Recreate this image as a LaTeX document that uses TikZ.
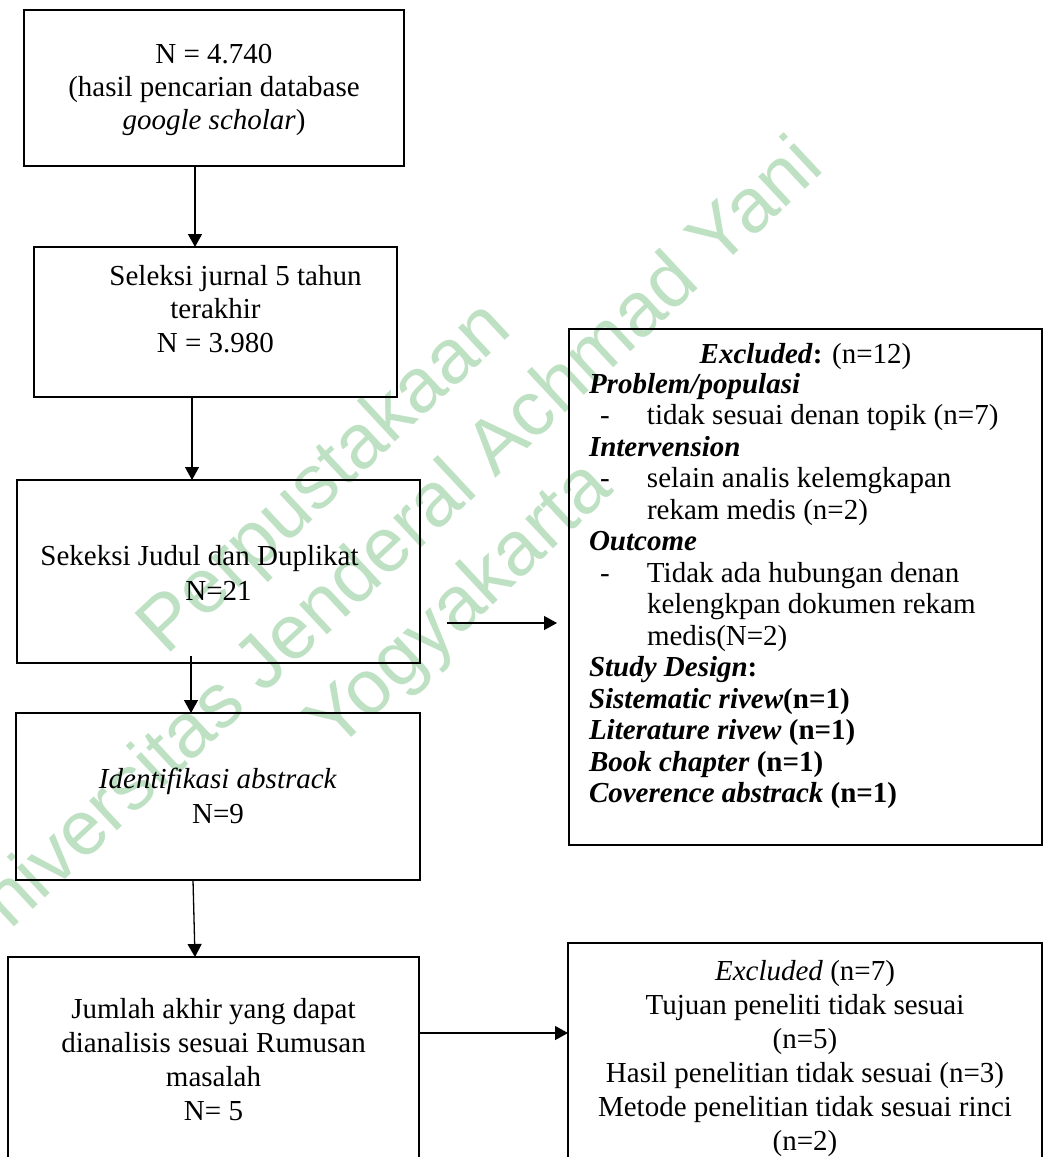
\documentclass[tikz,border=0pt]{standalone}
\usepackage{fontspec}
\setmainfont{Liberation Serif}
\newfontfamily\wmfont{Liberation Sans}
\usetikzlibrary{arrows.meta,calc}
\definecolor{wmgreen}{RGB}{190,225,195}
\newcommand\dashitem[1]{\makebox[58pt][l]{\hspace*{11pt}-}#1}
\begin{document}
\begin{tikzpicture}[x=1pt,y=-1pt,
  box/.style={draw=black,line width=2.2pt,rectangle,inner sep=0pt,outer sep=0pt},
  txt/.style={inner sep=0pt,outer sep=0pt,align=center,anchor=base},
  arr/.style={line width=1.3pt,-{Triangle[length=13pt,width=14pt]}},
  wm/.style={wmgreen,inner sep=0pt,anchor=base,rotate=43,font=\wmfont\fontsize{77}{77}\selectfont}]
\useasboundingbox (0,0) rectangle (1043,1157);
\clip (0,0) rectangle (1043,1157);
\fill[white] (0,0) rectangle (1043,1157);
% watermark
\node[wm] (w1) at (340,494) {Perpustakaan};
\node[wm] (w2) at (398,569) {Universitas Jenderal Achmad Yani};
\node[wm] (w3) at (475,622) {Yogyakarta};
% boxes
\node[box,line width=2.8pt,minimum width=380,minimum height=156] (b1) at (214,88) {};
\node[box,minimum width=363,minimum height=150] (b2) at (215.5,322) {};
\node[box,minimum width=403,minimum height=183] (b3) at (218.5,571.5) {};
\node[box,minimum width=404,minimum height=167] (b4) at (218,796.5) {};
\node[box,minimum width=411,minimum height=208] (b5) at (213.5,1061) {};
\node[box,minimum width=473,minimum height=516] (b6) at (805.5,587) {};
\node[box,minimum width=474,minimum height=222] (b7) at (805,1054) {};
% texts (anchor base = baseline of the last line)
\node[txt,font=\fontsize{29}{33}\selectfont] (t1) at (214,129)
  {N = 4.740\\(hasil pencarian database\\\textit{google scholar})};
\node[txt,font=\fontsize{29}{33.5}\selectfont] (t2) at (215.5,352)
  {\hspace*{40pt}Seleksi jurnal 5 tahun\\terakhir\\N = 3.980};
\node[txt,font=\fontsize{29}{35}\selectfont] (t3) at (218.5,600)
  {Sekeksi Judul dan Duplikat\rule{38pt}{0pt}\\N=21};
\node[txt,font=\fontsize{29}{35}\selectfont] (t4) at (218,823)
  {\textit{Identifikasi abstrack}\\N=9};
\node[txt,font=\fontsize{29}{34}\selectfont] (t5) at (213.5,1120)
  {Jumlah akhir yang dapat\\dianalisis sesuai Rumusan\\masalah\\N= 5};
\node[txt,font=\fontsize{29}{31.5}\selectfont] (t6h) at (805.5,363)
  {\textbf{\textit{Excluded}:} (n=12)};
\node[txt,anchor=base west,align=left,font=\fontsize{29}{31.5}\selectfont] (t6) at (589,802.5)
  {\textbf{\textit{Problem/populasi}}\\
   \dashitem{tidak sesuai denan topik (n=7)}\\
   \textbf{\textit{Intervension}}\\
   \dashitem{selain analis kelemgkapan}\\
   \hspace*{58pt}rekam medis (n=2)\\
   \textbf{\textit{Outcome}}\\
   \dashitem{Tidak ada hubungan denan}\\
   \hspace*{58pt}kelengkpan dokumen rekam\\
   \hspace*{58pt}medis(N=2)\\
   \textbf{\textit{Study Design}:}\\
   \textbf{\textit{Sistematic rivew}(n=1)}\\
   \textbf{\textit{Literature rivew} (n=1)}\\
   \textbf{\textit{Book chapter} (n=1)}\\
   \textbf{\textit{Coverence abstrack} (n=1)}};
\node[txt,font=\fontsize{29}{34}\selectfont] (t7) at (805,1150)
  {\textit{Excluded} (n=7)\\Tujuan peneliti tidak sesuai\\(n=5)\\Hasil penelitian tidak sesuai (n=3)\\Metode penelitian tidak sesuai rinci\\(n=2)};
% connectors
\draw[arr] (195,0 |- b1.south) -- (195,0 |- b2.north);
\draw[arr] (192,0 |- b2.south) -- (192,0 |- b3.north);
\draw[arr] ($(191,0 |- b3.south)+(0,-7)$) -- (191,0 |- b4.north);
\draw[arr] (193,0 |- b4.south) -- (195,0 |- b5.north);
\draw[arr] ($(b3.east |- 0,623)+(27,0)$) -- ($(b6.west |- 0,623)+(-12,0)$);
\draw[arr] (b5.east |- 0,1033) -- (b7.west |- 0,1033);
\end{tikzpicture}
\end{document}
